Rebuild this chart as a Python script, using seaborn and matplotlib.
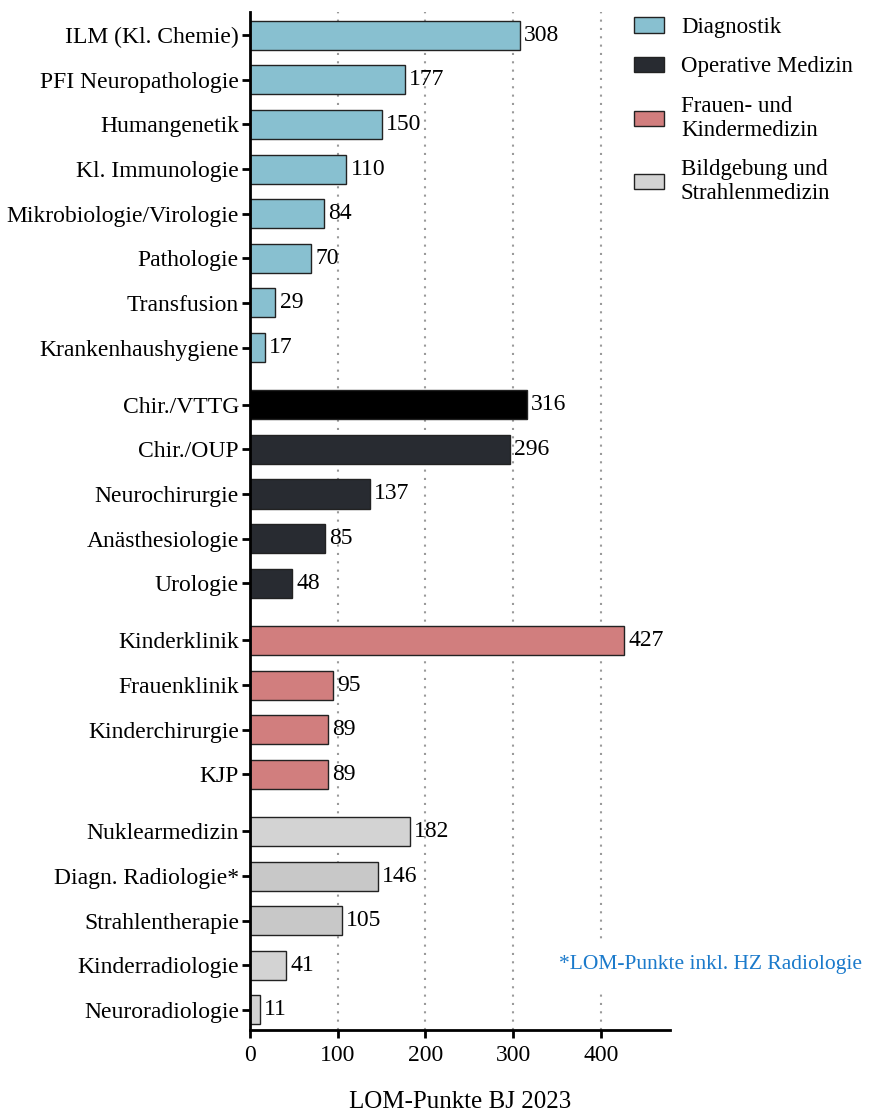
import numpy as np
import pandas as pd
import matplotlib
matplotlib.use("Agg")
import matplotlib.pyplot as plt
from matplotlib.patches import Patch
import seaborn as sb

sb.set_style("white")
plt.rcParams['font.family'] = ['Liberation Serif', 'DejaVu Serif']
plt.rcParams.update({"text.color": "black", "axes.labelcolor": "black",
                     "xtick.color": "black", "ytick.color": "black"})

groups = ["Diagnostik", "Operative Medizin", "Frauen- und\nKindermedizin",
          "Bildgebung und\nStrahlenmedizin"]
group_colors = ["#88C0D0", "#282B31", "#D17E7E", "#D3D3D3"]

labels_diag = ["ILM (Kl. Chemie)", "PFI Neuropathologie", "Humangenetik", "Kl. Immunologie",
               "Mikrobiologie/Virologie", "Pathologie", "Transfusion", "Krankenhaushygiene"]
values_diag = [308, 177, 150, 110, 84, 70, 29, 17]
labels_op = ["Chir./VTTG", "Chir./OUP", "Neurochirurgie", "Anästhesiologie", "Urologie"]
values_op = [316, 296, 137, 85, 48]
labels_fk = ["Kinderklinik", "Frauenklinik", "Kinderchirurgie", "KJP"]
values_fk = [427, 95, 89, 89]
labels_bild = ["Nuklearmedizin", "Diagn. Radiologie*", "Strahlentherapie",
               "Kinderradiologie", "Neuroradiologie"]
values_bild = [182, 146, 105, 41, 11]

# a few bars deviate from their group colour in the original
special_colors = {"Chir./VTTG": "#000000", "Diagn. Radiologie*": "#C8C8C8",
                  "Strahlentherapie": "#C8C8C8"}

all_labels = [labels_diag, labels_op, labels_fk, labels_bild]
all_values = [values_diag, values_op, values_fk, values_bild]

gap = 0.28
rows = []
p = 0.0
for g, (labs, vals) in enumerate(zip(all_labels, all_values)):
    for lab, val in zip(labs, vals):
        rows.append({"label": lab, "value": val, "group": groups[g], "pos": p})
        p += 1
    p += gap
df = pd.DataFrame(rows)

palette = {}
for _, r in df.iterrows():
    palette[r["label"]] = special_colors.get(r["label"], group_colors[groups.index(r["group"])])

fig = plt.figure(figsize=(8.71, 11.17), dpi=100)
ax = fig.add_axes([250/871, 87/1117, 420/871, 1018/1117])

for x in [100, 200, 300, 400]:
    ax.axvline(x, color="#9a9a9a", linestyle=(0, (1, 3)), linewidth=1.5, zorder=0)

sb.barplot(data=df, x="value", y="pos", hue="label", palette=palette, orient="h",
           native_scale=True, dodge=False, width=0.65, legend=False, saturation=1,
           edgecolor="#222222", linewidth=1.0, ax=ax, zorder=2)

for c in ax.containers:
    ax.bar_label(c, fmt="%d", padding=3, fontsize=17)

ax.set_yticks(df["pos"], df["label"])
ax.set_ylim(df["pos"].max() + 0.45, -0.52)
ax.set_xlim(0, 479)
ax.set_xticks([0, 100, 200, 300, 400])
ax.tick_params(axis="y", labelsize=17, length=6, width=2, pad=2, left=True)
ax.tick_params(axis="x", labelsize=17, length=6, width=2, pad=5, bottom=True)
ax.set_xlabel("LOM-Punkte BJ 2023", fontsize=18, labelpad=18)
ax.set_ylabel("")
for s in ["top", "right"]:
    ax.spines[s].set_visible(False)
for s in ["left", "bottom"]:
    ax.spines[s].set_linewidth(2)
    ax.spines[s].set_color("black")

handles = [Patch(facecolor=c, edgecolor="#222222", linewidth=1.0) for c in group_colors]
fig.legend(handles, groups, loc="upper left", bbox_to_anchor=(634/871, 1 - 17/1117),
           frameon=False, fontsize=16.5, handlelength=1.3, handleheight=0.65,
           labelspacing=0.8, handletextpad=0.75, borderpad=0, borderaxespad=0)

ax.text(862/871, 1 - 965/1117, "*LOM-Punkte inkl. HZ Radiologie", transform=fig.transFigure,
        ha="right", va="center", fontsize=15.5, color="#1B7ACB",
        bbox=dict(facecolor="white", edgecolor="none", pad=12))

fig.savefig("out.png", dpi=100)
